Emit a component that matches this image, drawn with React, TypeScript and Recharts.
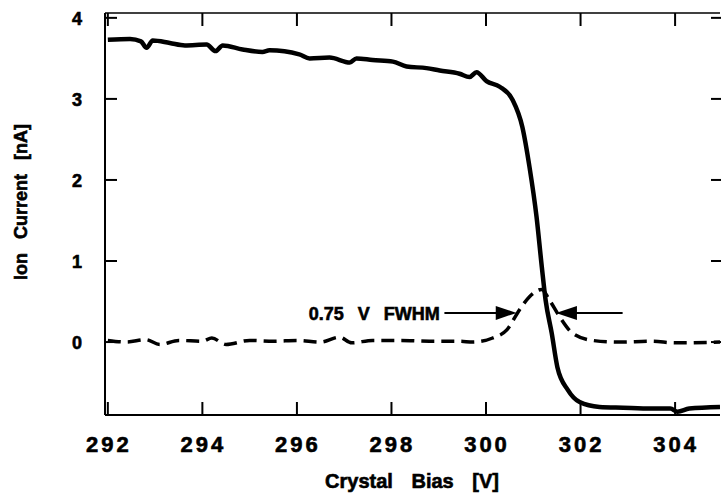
import { LineChart, Line, XAxis, YAxis, ReferenceDot } from "recharts";

// solid trace: ion current vs crystal bias
const biasV = [
  292.0, 292.47, 292.7, 292.82, 292.95, 293.31, 293.63, 294.09, 294.28, 294.43,
  294.85, 295.27, 295.42, 296.05, 296.27, 296.69, 297.12, 297.26, 297.6, 298.03,
  298.32, 298.74, 299.02, 299.44, 299.65, 299.8, 300.01, 300.29, 300.56, 300.77,
  300.92, 301.07, 301.18, 301.26, 301.39, 301.51, 301.73, 301.98, 302.4, 302.9,
  303.5, 303.9, 304.05, 304.3, 304.95,
];
const ionCurrent = [
  3.73, 3.74, 3.71, 3.63, 3.72, 3.69, 3.66, 3.67, 3.59, 3.66,
  3.61, 3.58, 3.6, 3.55, 3.5, 3.51, 3.45, 3.5, 3.48, 3.46,
  3.4, 3.38, 3.35, 3.31, 3.27, 3.33, 3.22, 3.15, 2.99, 2.65,
  2.16, 1.54, 0.93, 0.52, 0.11, -0.31, -0.59, -0.74, -0.8, -0.81,
  -0.82, -0.82, -0.86, -0.82, -0.8,
];

// dashed trace: derivative peak
const peakV = [
  292.0, 292.4, 292.8, 293.1, 293.5, 294.0, 294.2, 294.5, 295.0, 295.5,
  296.0, 296.5, 296.9, 297.16, 297.6, 298.2, 298.8, 299.44, 299.72, 300.14,
  300.44, 300.71, 300.92, 301.18, 301.34, 301.56, 301.83, 302.25, 302.8, 303.5,
  304.0, 304.95,
];
const peakSignal = [
  0.02, 0.0, 0.03, -0.03, 0.02, 0.01, 0.05, -0.03, 0.02, 0.01,
  0.02, 0.0, 0.06, -0.01, 0.02, 0.02, 0.01, 0.01, 0.0, 0.05,
  0.15, 0.4, 0.56, 0.65, 0.52, 0.31, 0.11, 0.02, 0.0, 0.01,
  -0.01, 0.0,
];

const xTicks = [292, 294, 296, 298, 300, 302, 304];
const yTicks = [0, 1, 2, 3, 4];

const solidData = biasV.map((v, i) => ({ v, i: ionCurrent[i] }));
const dashedData = peakV.map((v, i) => ({ v, d: peakSignal[i] }));

const font = "'Liberation Sans', Arial, sans-serif";
const xDomain = [291.94, 304.95];
const yDomain = [-0.9, 4.06];
// scanned print looks heavier than plain bold
const heavy = { fontWeight: "bold", fontFamily: font, fill: "#000", stroke: "#000", strokeWidth: 0.6 };

const BottomTick = (p: any) => (
  <g>
    <line x1={p.x} x2={p.x} y1={p.y} y2={p.y - 13} stroke="#000" strokeWidth={2} />
    <text x={p.x + 1} y={p.y + 37} textAnchor="middle" fontSize={22} letterSpacing={3} {...heavy}>
      {p.payload.value}
    </text>
  </g>
);
const TopTick = (p: any) => (
  <line x1={p.x} x2={p.x} y1={p.y} y2={p.y + 13} stroke="#000" strokeWidth={2} />
);
const LeftTick = (p: any) => (
  <g>
    <line x1={p.x} x2={p.x + 12} y1={p.y} y2={p.y} stroke="#000" strokeWidth={2} />
    <text x={p.x - 23} y={p.y + 7} textAnchor="end" fontSize={18} {...heavy}>
      {p.payload.value}
    </text>
  </g>
);
const RightTick = (p: any) => (
  <line x1={p.x - 9} x2={p.x + 2} y1={p.y} y2={p.y} stroke="#000" strokeWidth={2} />
);

const arrowRight = (p: any) => (
  <polygon points={`${p.cx},${p.cy} ${p.cx - 21},${p.cy - 7} ${p.cx - 21},${p.cy + 7}`} fill="#000" />
);
const arrowLeft = (p: any) => (
  <polygon points={`${p.cx},${p.cy} ${p.cx + 21},${p.cy - 7} ${p.cx + 21},${p.cy + 7}`} fill="#000" />
);
const fwhmText = (p: any) => (
  <text x={p.cx} y={p.cy + 7} textAnchor="end" fontSize={18} wordSpacing={9} {...heavy}>
    0.75 V FWHM
  </text>
);

export default function App() {
  return (
    <div style={{ position: "absolute", left: 0, top: 0, background: "#fff" }}>
      <LineChart width={721} height={494} margin={{ top: 12, right: 0, bottom: 78, left: 104 }}>
        <XAxis
          xAxisId="b" dataKey="v" type="number" domain={xDomain} allowDataOverflow
          ticks={xTicks} height={1} tickSize={0} tickMargin={0} tickLine={false}
          axisLine={{ stroke: "#000", strokeWidth: 2 }} tick={BottomTick} interval={0}
          label={{
            content: () => (
              <text x={412} y={488} textAnchor="middle" fontSize={20} wordSpacing={13} {...heavy}>
                Crystal Bias [V]
              </text>
            ),
          }}
        />
        <XAxis
          xAxisId="t" orientation="top" dataKey="v" type="number" domain={xDomain} allowDataOverflow
          ticks={xTicks} height={1} tickSize={0} tickMargin={0} tickLine={false}
          axisLine={{ stroke: "#000", strokeWidth: 1.5 }} tick={TopTick} interval={0}
        />
        <YAxis
          yAxisId="l" type="number" domain={yDomain} allowDataOverflow ticks={yTicks}
          width={1} tickSize={0} tickMargin={0} tickLine={false}
          axisLine={{ stroke: "#000", strokeWidth: 2 }} tick={LeftTick} interval={0}
          label={{
            content: () => (
              <text x={20} y={202} transform="rotate(-90 20 202)" dy={7} textAnchor="middle" fontSize={18} wordSpacing={9} {...heavy}>
                Ion Current [nA]
              </text>
            ),
          }}
        />
        <YAxis
          yAxisId="r" orientation="right" type="number" domain={yDomain} allowDataOverflow ticks={yTicks}
          width={1} tickSize={0} tickMargin={0} tickLine={false} axisLine={false} tick={RightTick} interval={0}
        />
        <Line
          xAxisId="b" yAxisId="l" data={dashedData} dataKey="d" type="monotone"
          stroke="#000" strokeWidth={3.5} strokeDasharray="13 7" dot={false} isAnimationActive={false}
        />
        <Line
          xAxisId="b" yAxisId="l" data={solidData} dataKey="i" type="monotone"
          stroke="#000" strokeWidth={4.5} dot={false} isAnimationActive={false}
        />
        <ReferenceDot xAxisId="b" yAxisId="l" x={299.02} y={0.36} shape={fwhmText} />
        <ReferenceDot xAxisId="b" yAxisId="l" x={300.65} y={0.36} shape={arrowRight} />
        <ReferenceDot xAxisId="b" yAxisId="l" x={301.48} y={0.36} shape={arrowLeft} />
        <Line
          xAxisId="b" yAxisId="l"
          data={[{ v: 299.12, a: 0.36 }, { v: 300.3, a: 0.36 }]} dataKey="a" type="linear"
          stroke="#000" strokeWidth={2} dot={false} isAnimationActive={false}
        />
        <Line
          xAxisId="b" yAxisId="l"
          data={[{ v: 301.8, a: 0.36 }, { v: 302.89, a: 0.36 }]} dataKey="a" type="linear"
          stroke="#000" strokeWidth={2} dot={false} isAnimationActive={false}
        />
      </LineChart>
    </div>
  );
}
